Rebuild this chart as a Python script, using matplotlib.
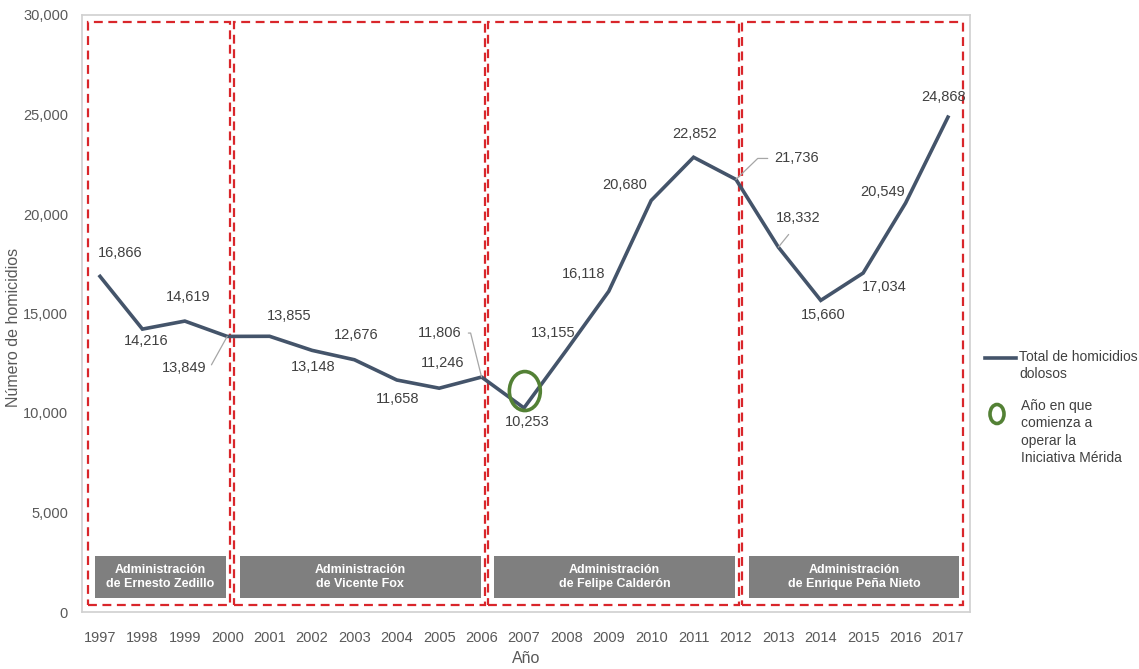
import matplotlib.pyplot as plt
from matplotlib.patches import Rectangle, Ellipse
from matplotlib.lines import Line2D
from matplotlib.ticker import FuncFormatter

plt.rcParams['font.family'] = ['Liberation Sans', 'DejaVu Sans']

# homicidios dolosos por año
anios = list(range(1997, 2018))
homicidios = [16866, 14216, 14619, 13849, 13855, 13148, 12676, 11658, 11246, 11806,
              10253, 13155, 16118, 20680, 22852, 21736, 18332, 15660, 17034, 20549, 24868]

# sexenios: (inicio, fin, nombre)
sexenios = [(1997, 2000, 'Administración\nde Ernesto Zedillo'),
            (2000, 2006, 'Administración\nde Vicente Fox'),
            (2006, 2012, 'Administración\nde Felipe Calderón'),
            (2012, 2017, 'Administración\nde Enrique Peña Nieto')]

anio_merida = 2007

# desplazamiento de cada etiqueta (pixeles)
offs = [(20, 23), (4, -12), (3, 24), (-43, -32), (20, 20), (1, -17), (2, 25), (1, -19),
        (3, 25), (-42, 44), (3, -14), (-13, 17), (-25, 17), (-26, 15), (1, 23), (61, 21),
        (20, 29), (2, -15), (21, -14), (-23, 11), (-4, 20)]
# lineas guia: año -> (relpos, estilo de conexion, shrinkA)
guia = {2000: ((1, 0.5), 'angle,angleA=0,angleB=61,rad=0', 3),
        2006: ((1, 0.5), 'angle,angleA=0,angleB=104,rad=0', 3),
        2012: ((0, 0.5), 'angle,angleA=0,angleB=44,rad=0', 3),
        2013: ((0.45, 0), 'arc3', 6)}

gris = '#595959'
rojo = '#d9262b'

fig = plt.figure(figsize=(11.39, 6.69), dpi=100)
ax = fig.add_axes([82 / 1139, 1 - 612 / 669, 888 / 1139, 597 / 669])

ax.plot(anios, homicidios, color='#44546a', lw=2.6, zorder=3, solid_joinstyle='miter')

for a, v, (dx, dy) in zip(anios, homicidios, offs):
    if a in guia:
        rp, cs, sh = guia[a]
        ax.annotate(f'{v:,}', (a, v), xytext=(dx, dy), textcoords='offset pixels',
                    ha='center', va='center', fontsize=10.5, color='#404040',
                    arrowprops=dict(arrowstyle='-', color='#a6a6a6', lw=0.9, relpos=rp,
                                    connectionstyle=cs, shrinkA=sh, shrinkB=0))
    else:
        ax.annotate(f'{v:,}', (a, v), xytext=(dx, dy), textcoords='offset pixels',
                    ha='center', va='center', fontsize=10.5, color='#404040')

# recuadros por sexenio
for i, (ini, fin, nombre) in enumerate(sexenios):
    x0 = ini - 0.28 if i == 0 else ini + 0.15
    x1 = fin + 0.35 if i == len(sexenios) - 1 else fin + 0.07
    ax.add_patch(Rectangle((x0, 350), x1 - x0, 29300, fill=False, ec=rojo, lw=1.6,
                           ls=(0, (4, 2.5)), zorder=2))
    g0 = x0 + 0.15
    g1 = x1 - 0.09
    ax.add_patch(Rectangle((g0, 700), g1 - g0, 2110, fc='#7f7f7f', ec='none', zorder=2))
    ax.text((g0 + g1) / 2, 1755, nombre, ha='center', va='center', color='white',
            fontsize=9, fontweight='bold', linespacing=1.3, zorder=4)

ax.add_patch(Ellipse((anio_merida + 0.02, homicidios[anios.index(anio_merida)] + 850), 0.73, 1960,
                     fill=False, ec='#538135', lw=2.6, zorder=4))

ax.set_xlim(1996.575, 2017.52)
ax.set_ylim(0, 30000)
ax.set_xticks(anios)
ax.set_yticks(range(0, 30001, 5000))
ax.yaxis.set_major_formatter(FuncFormatter(lambda v, p: f'{int(v):,}'))
ax.tick_params(length=0, colors=gris, labelsize=10.5)
ax.tick_params(axis='x', pad=14)
ax.tick_params(axis='y', pad=10)
for s in ax.spines.values():
    s.set_color('#d0d0d0')
    s.set_linewidth(1.2)
ax.set_ylabel('Número de homicidios', color=gris, fontsize=11.5)
ax.yaxis.set_label_coords(-0.069, 0.476)
ax.set_xlabel('Año', color=gris, fontsize=11.5, labelpad=4)

# leyenda
fig.add_artist(Line2D([985 / 1139, 1016 / 1139], [1 - 358 / 669] * 2, color='#44546a', lw=2.6))
fig.text(1019 / 1139, 1 - 350 / 669, 'Total de homicidios\ndolosos', fontsize=10,
         color='#404040', va='top', linespacing=1.25)
fig.add_artist(Ellipse((997 / 1139, 1 - 414 / 669), 14 / 1139, 19 / 669, fill=False,
                       ec='#538135', lw=2.6))
fig.text(1021 / 1139, 1 - 399 / 669, 'Año en que\ncomienza a\noperar la\nIniciativa Mérida',
         fontsize=10, color='#404040', va='top', linespacing=1.3)

fig.savefig('out.png', dpi=100)
